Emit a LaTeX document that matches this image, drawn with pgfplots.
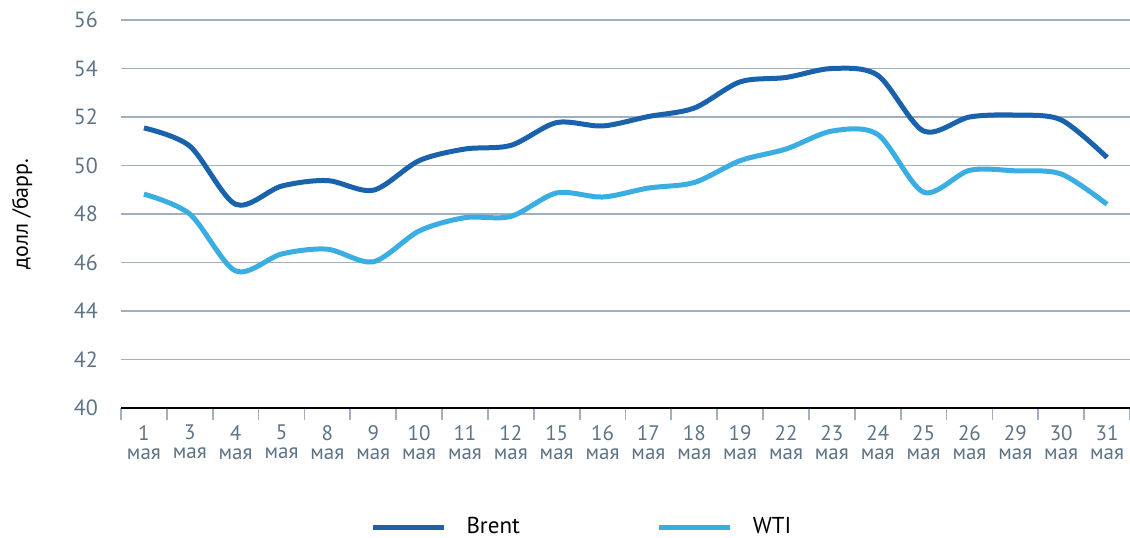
\documentclass[border=0pt]{standalone}
\usepackage{fontspec}
\setmainfont{PT Sans}
\usepackage{pgfplots}
\pgfplotsset{compat=1.18}
\definecolor{brent}{HTML}{1A62AC}
\definecolor{wti}{HTML}{3AAEE2}
\definecolor{gridc}{HTML}{9FB0C0}
\definecolor{tickc}{HTML}{5E7385}
\begin{document}
\begin{tikzpicture}
\useasboundingbox (0,0) rectangle (565pt,268.5pt);
\begin{axis}[
  at={(60.5pt,64.5pt)}, anchor=south west,
  scale only axis, width=504.5pt, height=194pt,
  xmin=-0.5, xmax=21.5, ymin=40, ymax=56,
  ytick={40,42,...,56},
  xtick={0,...,21},
  xticklabels={{1\\мая},{3\\мая},{4\\мая},{5\\мая},{8\\мая},{9\\мая},{10\\мая},{11\\мая},{12\\мая},{15\\мая},{16\\мая},{17\\мая},{18\\мая},{19\\мая},{22\\мая},{23\\мая},{24\\мая},{25\\мая},{26\\мая},{29\\мая},{30\\мая},{31\\мая}},
  minor xtick={-0.5,0.5,...,21.5},
  major tick length=0pt,
  minor tick length=6pt,
  tick align=outside,
  minor x tick style={gridc, line width=0.9pt},
  axis x line*=bottom,
  axis y line*=left,
  x axis line style={black, line width=1.3pt, -},
  y axis line style={draw=none},
  ymajorgrids,
  major grid style={gridc, line width=0.9pt},
  /pgf/number format/assume math mode=true,
  yticklabel style={font=\fontsize{11}{12}\selectfont, text=tickc, xshift=-8pt},
  xticklabel style={font=\fontsize{10.5}{9.5}\selectfont, text=tickc, align=center, yshift=-5pt},
  ylabel={долл /барр.},
  ylabel style={at={(axis description cs:0,0.5)}, anchor=center, yshift=49.5pt, font=\fontsize{11}{12}\selectfont},
  legend columns=2,
  legend style={draw=none, fill=none, at={(axis description cs:0.241,0)}, anchor=west, yshift=-59.5pt,
    font=\fontsize{11.5}{13}\selectfont,
    /tikz/every odd column/.append style={column sep=8pt},
    /tikz/every even column/.append style={column sep=66.5pt}},
  legend image code/.code={\draw[#1, line width=2.5pt] (0pt,0pt) -- (35.5pt,0pt);},
]
\addplot[brent, line width=2.5pt, smooth, tension=0.5] coordinates {
(0,51.55) (1,50.8) (2,48.4) (3,49.15) (4,49.38) (5,48.98) (6,50.2) (7,50.68) (8,50.83) (9,51.77) (10,51.63)
(11,52.02) (12,52.37) (13,53.45) (14,53.63) (15,54.0) (16,53.72) (17,51.42) (18,52.0) (19,52.08) (20,51.88) (21,50.33)};
\addlegendentry{Brent}
\addplot[wti, line width=2.5pt, smooth, tension=0.5] coordinates {
(0,48.82) (1,48.0) (2,45.65) (3,46.35) (4,46.55) (5,46.03) (6,47.3) (7,47.85) (8,47.9) (9,48.87) (10,48.7)
(11,49.07) (12,49.3) (13,50.2) (14,50.68) (15,51.42) (16,51.28) (17,48.9) (18,49.8) (19,49.78) (20,49.65) (21,48.4)};
\addlegendentry{WTI}
\end{axis}
\end{tikzpicture}
\end{document}
